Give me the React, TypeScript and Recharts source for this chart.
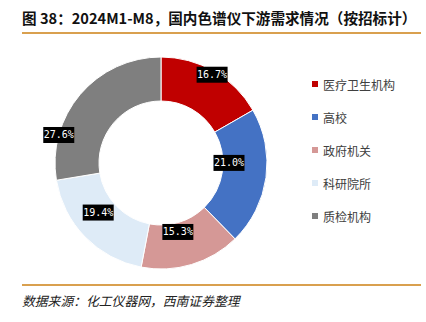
import { PieChart, Pie, Cell } from 'recharts';

const CATEGORIES = ['医疗卫生机构', '高校', '政府机关', '科研院所', '质检机构'];
const SHARES = [16.7, 21.0, 15.3, 19.4, 27.6];
const COLORS = ['#C00000', '#4472C4', '#D59896', '#DEEBF7', '#7F7F7F'];

// label placement tweaks (radius from centre, angle shift in degrees) to mimic the original
const LABEL_POS = [
  { r: 102, shift: 0 },
  { r: 68, shift: 8 },
  { r: 71, shift: -3 },
  { r: 80, shift: -6 },
  { r: 106, shift: 25 },
];

const RADIAN = Math.PI / 180;
const CJK = '"Noto Sans CJK SC", "Noto Sans", sans-serif';

const data = CATEGORIES.map((name, i) => ({ name, value: SHARES[i] }));

function renderLabel(props: any) {
  const { cx, cy, midAngle, index, value } = props;
  const p = LABEL_POS[index];
  const a = (midAngle + p.shift) * RADIAN;
  const x = cx + p.r * Math.cos(-a);
  const y = cy + p.r * Math.sin(-a);
  const w = 31;
  const h = 16;
  return (
    <g key={`lbl-${index}`}>
      <rect x={x - w / 2} y={y - h / 2} width={w} height={h} fill="#000" />
      <text x={x} y={y + 0.5} fill="#fff" fontSize={10} textAnchor="middle" dominantBaseline="middle"
        fontFamily='"DejaVu Sans Mono", monospace'>
        {value.toFixed(1)}%
      </text>
    </g>
  );
}

export default function App() {
  return (
    <div style={{ position: 'fixed', left: 0, top: 0, width: 426, height: 322, background: '#fff', fontFamily: CJK }}>
      <div style={{ position: 'absolute', left: 22, top: 8, fontSize: 14.6, fontWeight: 700, color: '#111', whiteSpace: 'nowrap', lineHeight: '20px' }}>
        图 38：2024M1-M8，国内色谱仪下游需求情况（按招标计）
      </div>
      <div style={{ position: 'absolute', left: 22, top: 32, width: 399, height: 2, background: '#D9A04F' }} />

      <div style={{ position: 'absolute', left: 0, top: 0 }}>
        <PieChart width={300} height={280} margin={{ top: 0, right: 0, bottom: 0, left: 0 }}>
          <Pie
            data={data}
            dataKey="value"
            nameKey="name"
            cx={161}
            cy={163}
            innerRadius={62}
            outerRadius={106}
            startAngle={90}
            endAngle={-270}
            stroke="#fff"
            strokeWidth={1}
            label={renderLabel}
            labelLine={false}
            isAnimationActive={false}
          >
            {data.map((d, i) => (
              <Cell key={d.name} fill={COLORS[i]} />
            ))}
          </Pie>
        </PieChart>
      </div>

      {/* Legend */}
      {CATEGORIES.map((c, i) => (
        <div key={c} style={{ position: 'absolute', left: 312, top: 84 + i * 33 - 9, height: 18, display: 'flex', alignItems: 'center', whiteSpace: 'nowrap' }}>
          <span style={{ width: 6, height: 6, background: COLORS[i], marginRight: 5, display: 'inline-block' }} />
          <span style={{ fontSize: 12, color: '#404040' }}>{c}</span>
        </div>
      ))}

      <div style={{ position: 'absolute', left: 22, top: 284, width: 399, height: 2, background: '#D9A04F' }} />
      <div style={{ position: 'absolute', left: 22, top: 292, fontSize: 12.8, fontStyle: 'italic', color: '#222', whiteSpace: 'nowrap', lineHeight: '18px' }}>
        数据来源：化工仪器网，西南证券整理
      </div>
    </div>
  );
}
